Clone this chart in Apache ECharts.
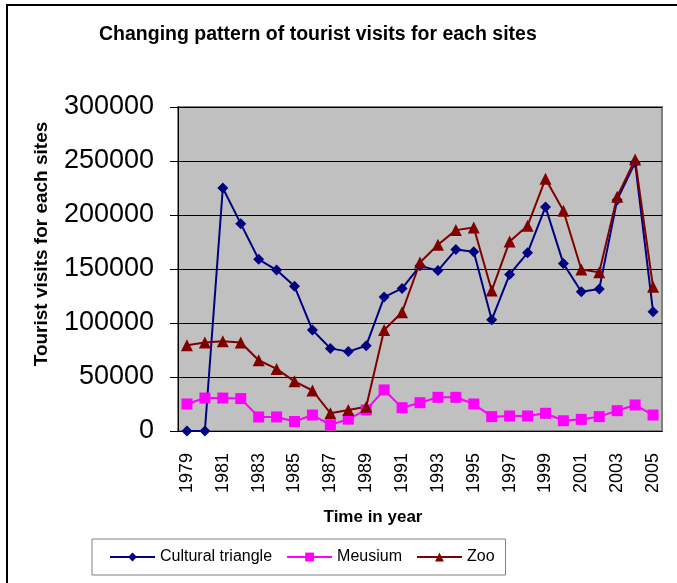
<!DOCTYPE html>
<html>
<head>
<meta charset="utf-8">
<script src="https://cdn.jsdelivr.net/npm/echarts@6/dist/echarts.min.js"></script>
<style>
  html, body { margin: 0; padding: 0; background: #fff; }
  #chart { width: 677px; height: 583px; }
</style>
</head>
<body>
<div id="chart"></div>
<script>
// Years on the x axis
const years = [];
for (let y = 1979; y <= 2005; y++) years.push(String(y));

// Visits
const cultural = [0, 0, 225000, 192000, 159000, 149000, 134000, 93500, 76500, 73500, 79000,
  124000, 132000, 153000, 148500, 168000, 166000, 103000, 145000, 165000, 207500,
  155000, 129000, 131500, 214000, 248500, 110500];
const meusium = [25000, 30500, 30500, 30000, 13000, 13000, 8800, 14800, 5600, 11000, 19500,
  38000, 21600, 26200, 31200, 31200, 25000, 13300, 13900, 13900, 16400,
  9500, 10800, 13300, 18800, 24100, 14800];
const zoo = [79500, 82000, 83000, 82000, 65500, 57500, 46000, 37500, 16500, 19500, 22500,
  93500, 110000, 156000, 172500, 186000, 188500, 130000, 175500, 190000, 233500,
  204000, 149500, 147000, 217000, 251500, 133500];

const yTicks = { min: 0, max: 300000, interval: 50000 };

const font = 'Arial, "Liberation Sans", sans-serif';

const chart = echarts.init(document.getElementById('chart'), null, { renderer: 'canvas' });

function lineSeries(name, data, color, symbol, size) {
  return {
    name: name,
    type: 'line',
    data: data,
    symbol: symbol,
    symbolSize: size,
    showAllSymbol: true,
    itemStyle: { color: color },
    lineStyle: { color: color, width: 2 },
    animation: false
  };
}

chart.setOption({
  backgroundColor: '#fff',
  textStyle: { fontFamily: font, color: '#000' },
  title: {
    text: 'Changing pattern of tourist visits for each sites',
    left: 94,
    top: 20,
    textStyle: { fontSize: 19.5, fontWeight: 'bold', color: '#000', fontFamily: font }
  },
  grid: {
    left: 178, right: 15, top: 107, bottom: 152,
    show: true,
    backgroundColor: '#C0C0C0',
    borderColor: '#808080',
    borderWidth: 2
  },
  legend: {
    left: 92,
    top: 539,
    padding: [10, 11, 10, 17],
    borderColor: '#808080',
    borderWidth: 1,
    itemWidth: 45,
    itemHeight: 11,
    itemGap: 14,
    textStyle: { fontSize: 16, color: '#000', fontFamily: font },
    data: ['Cultural triangle', 'Meusium', 'Zoo']
  },
  xAxis: {
    type: 'category',
    data: years,
    boundaryGap: true,
    axisLine: { lineStyle: { color: '#000', width: 1 } },
    axisTick: { interval: 0, length: 5, lineStyle: { color: '#000' } },
    axisLabel: { interval: 1, rotate: 90, fontSize: 18, margin: 22, color: '#000', fontFamily: font },
    splitLine: { show: false }
  },
  yAxis: {
    type: 'value',
    min: yTicks.min,
    max: yTicks.max,
    interval: yTicks.interval,
    axisLine: { show: true, lineStyle: { color: '#000', width: 1 } },
    axisTick: { show: true, length: 8, lineStyle: { color: '#000' } },
    axisLabel: {
      fontSize: 27, margin: 24, color: '#000', fontFamily: font,
      formatter: function (v) { return String(v); }
    },
    splitLine: { lineStyle: { color: '#000', width: 1 } }
  },
  graphic: [
    {
      type: 'rect',
      shape: { x: 7, y: 5, width: 720, height: 640 },
      style: { fill: 'none', stroke: '#000', lineWidth: 2 },
      silent: true
    },
    {
      type: 'text',
      x: 42, y: 244,
      rotation: Math.PI / 2,
      style: {
        text: 'Tourist visits for each sites',
        font: 'bold 19px ' + font,
        fill: '#000',
        textAlign: 'center',
        textVerticalAlign: 'middle'
      }
    },
    {
      type: 'text',
      x: 373, y: 517,
      style: {
        text: 'Time in year',
        font: 'bold 17px ' + font,
        fill: '#000',
        textAlign: 'center',
        textVerticalAlign: 'middle'
      }
    }
  ],
  series: [
    lineSeries('Cultural triangle', cultural, '#000080', 'diamond', 11),
    lineSeries('Meusium', meusium, '#FF00FF', 'rect', 11),
    lineSeries('Zoo', zoo, '#800000', 'triangle', 12)
  ]
});
</script>
</body>
</html>
